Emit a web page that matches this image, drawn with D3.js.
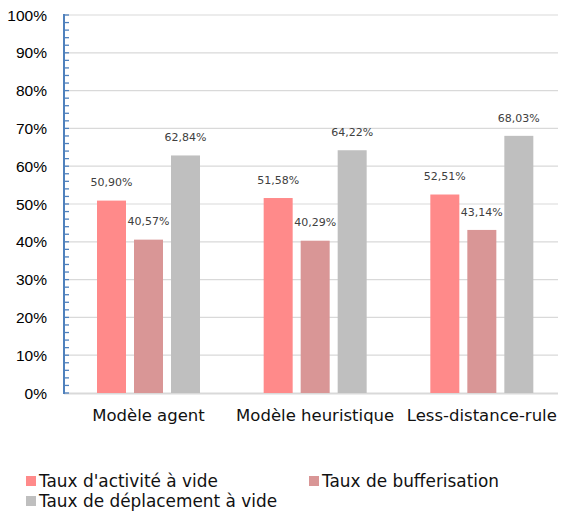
<!DOCTYPE html>
<html>
<head>
<meta charset="utf-8">
<script src="https://cdn.jsdelivr.net/npm/d3@7"></script>
<style>
  html, body { margin: 0; padding: 0; background: #fff; }
  svg { display: block; }
</style>
</head>
<body>
<svg id="chart" width="563" height="514"></svg>
<script>
// Categories, series and ticks
const categories = ["Modèle agent", "Modèle heuristique", "Less-distance-rule"];
const seriesNames = ["Taux d'activité à vide", "Taux de bufferisation", "Taux de déplacement à vide"];
const activiteVide = [50.90, 51.58, 52.51];
const bufferisation = [40.57, 40.29, 43.14];
const deplacementVide = [62.84, 64.22, 68.03];
const yTicks = [0, 10, 20, 30, 40, 50, 60, 70, 80, 90, 100];
const colors = ["#ff8a8a", "#d99696", "#bfbfbf"];

const series = [activiteVide, bufferisation, deplacementVide];

const svg = d3.select("#chart");
const plotLeft = 64, plotRight = 564, plotTop = 15, plotBottom = 393;

const x0 = d3.scaleBand().domain(categories).range([plotLeft, plotRight]).paddingInner(0).paddingOuter(0);
// bars within a category: 29px wide, 8px apart, starting 33px into the band
const x1 = d3.scaleBand().domain(d3.range(series.length)).range([33, 136]).paddingInner(8 / 37).paddingOuter(0);
const y = d3.scaleLinear().domain([0, 100]).range([plotBottom, plotTop]);

// Horizontal gridlines
svg.append("g")
  .selectAll("line")
  .data(yTicks.filter(t => t > 0))
  .join("line")
  .attr("x1", plotLeft).attr("x2", 558)
  .attr("y1", d => y(d)).attr("y2", d => y(d))
  .attr("stroke", "#d9d9d9").attr("stroke-width", 1.2);

// Baseline
svg.append("line")
  .attr("x1", plotLeft).attr("x2", 558)
  .attr("y1", y(0) + 0.5).attr("y2", y(0) + 0.5)
  .attr("stroke", "#d9d9d9").attr("stroke-width", 2);

// Bars
const groups = svg.append("g").selectAll("g")
  .data(categories)
  .join("g")
  .attr("transform", d => `translate(${x0(d)},0)`);

groups.selectAll("rect")
  .data((d, i) => series.map((s, k) => ({ k, v: s[i] })))
  .join("rect")
  .attr("x", d => x1(d.k))
  .attr("width", x1.bandwidth())
  .attr("y", d => y(d.v))
  .attr("height", d => y(0) - y(d.v))
  .attr("fill", d => colors[d.k]);

// Value labels
const fmt = v => v.toFixed(2).replace(".", ",") + "%";
groups.selectAll("text")
  .data((d, i) => series.map((s, k) => ({ k, v: s[i] })))
  .join("text")
  .attr("x", d => x1(d.k) + x1.bandwidth() / 2)
  .attr("y", d => y(d.v) - 14.3)
  .attr("text-anchor", "middle")
  .attr("font-family", "DejaVu Sans, sans-serif")
  .attr("font-size", "11px")
  .attr("fill", "#404040")
  .text(d => fmt(d.v));

// Y axis with minor ticks
const yAxis = svg.append("g");
yAxis.append("line")
  .attr("x1", plotLeft).attr("x2", plotLeft)
  .attr("y1", y(100) - 1).attr("y2", y(0) + 1)
  .attr("stroke", "#4f81bd").attr("stroke-width", 2);
yAxis.selectAll("line.minor")
  .data(d3.range(0, 101, 2))
  .join("line")
  .attr("class", "minor")
  .attr("x1", plotLeft).attr("x2", plotLeft + 5)
  .attr("y1", d => y(d)).attr("y2", d => y(d))
  .attr("stroke", "#4f81bd").attr("stroke-width", 1.3);
yAxis.selectAll("text")
  .data(yTicks)
  .join("text")
  .attr("x", 47)
  .attr("y", d => y(d) + 5.5)
  .attr("text-anchor", "end")
  .attr("font-family", "Liberation Sans, Arial, sans-serif")
  .attr("font-size", "15.5px")
  .attr("fill", "#000")
  .text(d => d + "%");

// Category labels
svg.append("g").selectAll("text")
  .data(categories)
  .join("text")
  .attr("x", d => x0(d) + x1(1) + x1.bandwidth() / 2)
  .attr("y", 421)
  .attr("text-anchor", "middle")
  .attr("font-family", "DejaVu Sans, sans-serif")
  .attr("font-size", "16.5px")
  .attr("fill", "#111")
  .text(d => d);

// Legend
const legendPos = [[26, 486], [309, 486], [26, 506]];
const legend = svg.append("g").selectAll("g")
  .data(seriesNames)
  .join("g")
  .attr("transform", (d, i) => `translate(${legendPos[i][0]},${legendPos[i][1]})`);
legend.append("rect")
  .attr("x", 0).attr("y", -10).attr("width", 10).attr("height", 10)
  .attr("fill", (d, i) => colors[i]);
legend.append("text")
  .attr("x", 13).attr("y", 0.5)
  .attr("font-family", "DejaVu Sans, sans-serif")
  .attr("font-size", "16.9px")
  .attr("fill", "#111")
  .text(d => d);
</script>
</body>
</html>
